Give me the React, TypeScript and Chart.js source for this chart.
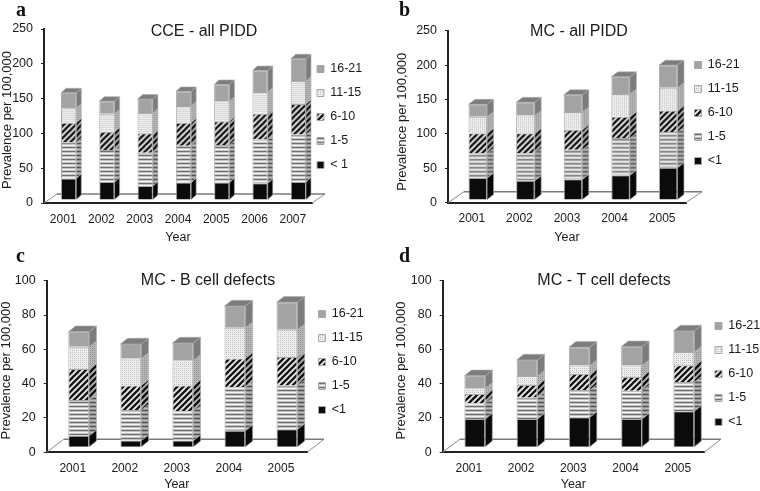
import React, { useEffect, useRef } from "react";
import { Chart, registerables } from "chart.js";

Chart.register(...registerables);

const aYears = ["2001", "2002", "2003", "2004", "2005", "2006", "2007"];
const aUnder1 = [31, 26, 20, 25, 25, 24, 26];
const a1to5 = [52, 46, 48, 53, 54, 63, 68];
const a6to10 = [28, 26, 28, 33, 34, 37, 44];
const a11to15 = [21, 26, 29, 24, 29, 31, 33];
const a16to21 = [22, 18, 20, 21, 24, 31, 32];

const bYears = ["2001", "2002", "2003", "2004", "2005"];
const bUnder1 = [32, 28, 30, 36, 47];
const b1to5 = [36, 40, 43, 54, 52];
const b6to10 = [29, 29, 29, 31, 31];
const b11to15 = [24, 26, 26, 33, 33];
const b16to21 = [18, 19, 25, 25, 33];

const cUnder1 = [6.8, 3.9, 3.9, 9.7, 10.5];
const c1to5 = [20.8, 17.8, 17.1, 25.3, 25.5];
const c6to10 = [18, 14.3, 15, 16.8, 16.6];
const c11to15 = [13, 15.8, 14.7, 17.9, 15.9];
const c16to21 = [8.8, 8.4, 10.1, 12.6, 16];

const dUnder1 = [16.5, 16.5, 17.5, 16.5, 21];
const d1to5 = [9.1, 12.5, 15.9, 16.5, 17];
const d6to10 = [5.4, 7.3, 9.3, 8, 9.8];
const d11to15 = [3.4, 5.3, 4.9, 6.6, 7.7];
const d16to21 = [7.3, 9.3, 10.7, 11, 12.3];

const yTicks250 = 250;
const yTicks100 = 100;
const stepA = 50;
const stepC = 20;

type Panel = {
  letter: string; title: string; titleX: number; titleY: number;
  under1Label: string; years: string[]; series: number[][]; max: number; step: number;
  ox: number; oy: number; w: number; h: number;
  left: number; right: number; top: number; bottom: number;
  floorDx: number; floorDy: number; barDx: number; barDy: number; depthX: number; depthY: number;
  barPct: number; legendX: number; legendY: number; yTitleDx: number; yTitleDy: number;
  letterX: number; letterY: number; yearPad: number;
};

const panels: Panel[] = [
  { letter: "a", title: "CCE - all PIDD", titleX: 204, titleY: 32, under1Label: "< 1", years: aYears,
    series: [aUnder1, a1to5, a6to10, a11to15, a16to21], max: yTicks250, step: stepA,
    ox: 0, oy: 0, w: 380, h: 245, left: 44, right: 312, top: 29, bottom: 203,
    floorDx: 13, floorDy: 9, barDx: 5.5, barDy: -3, depthX: 5, depthY: 4.5, barPct: 0.4,
    legendX: 317, legendY: 69, yTitleDx: 0.5, yTitleDy: 4, letterX: 16, letterY: -2, yearPad: 1 },
  { letter: "b", title: "MC - all PIDD", titleX: 199, titleY: 32, under1Label: "<1", years: bYears,
    series: [bUnder1, b1to5, b6to10, b11to15, b16to21], max: yTicks250, step: stepA,
    ox: 380, oy: 0, w: 380, h: 245, left: 68, right: 306, top: 30.7, bottom: 202.7,
    floorDx: 16, floorDy: 11, barDx: 6, barDy: -2.7, depthX: 6.5, depthY: 5, barPct: 0.39,
    legendX: 314.5, legendY: 65, yTitleDx: 16, yTitleDy: 5, letterX: 19, letterY: -2, yearPad: 1 },
  { letter: "c", title: "MC - B cell defects", titleX: 208, titleY: 36, under1Label: "<1", years: bYears,
    series: [cUnder1, c1to5, c6to10, c11to15, c16to21], max: yTicks100, step: stepC,
    ox: 0, oy: 245, w: 380, h: 246, left: 46.7, right: 307, top: 35.7, bottom: 207.3,
    floorDx: 17, floorDy: 13, barDx: 6, barDy: -5, depthX: 7.3, depthY: 5.7, barPct: 0.4,
    legendX: 318.5, legendY: 69, yTitleDx: 0, yTitleDy: 4, letterX: 16, letterY: -1, yearPad: 0 },
  { letter: "d", title: "MC - T cell defects", titleX: 224, titleY: 36, under1Label: "<1", years: bYears,
    series: [dUnder1, d1to5, d6to10, d11to15, d16to21], max: yTicks100, step: stepC,
    ox: 380, oy: 245, w: 380, h: 246, left: 62.7, right: 324, top: 35.7, bottom: 207.3,
    floorDx: 17, floorDy: 13, barDx: 6, barDy: -5, depthX: 7, depthY: 5.7, barPct: 0.4,
    legendX: 335, legendY: 81, yTitleDx: 14.5, yTitleDy: 4, letterX: 19, letterY: -1, yearPad: 0 },
];

const ageLabels = ["1-5", "6-10", "11-15", "16-21"];
const FONT = '"Liberation Sans", Arial, sans-serif';
const TEXT = "#1a1a1a";

function tile(size: number, paint: (c: CanvasRenderingContext2D) => void) {
  const cv = document.createElement("canvas");
  cv.width = size;
  cv.height = size;
  const c = cv.getContext("2d")!;
  paint(c);
  return c.createPattern(cv, "repeat")!;
}

function makeFills() {
  const stripes = tile(4, (c) => {
    const rows = ["#f4f4f4", "#c4c4c4", "#6e6e6e", "#c4c4c4"];
    rows.forEach((col, i) => { c.fillStyle = col; c.fillRect(0, i, 4, 1); });
  });
  const diagonal = tile(6, (c) => {
    c.fillStyle = "#ececec";
    c.fillRect(0, 0, 6, 6);
    c.strokeStyle = "#141414";
    c.lineWidth = 2.3;
    for (const k of [-6, 0, 6, 12]) {
      c.beginPath();
      c.moveTo(k - 1, 7);
      c.lineTo(k + 7, -1);
      c.stroke();
    }
  });
  const dots = tile(4, (c) => {
    c.fillStyle = "#eeeeee";
    c.fillRect(0, 0, 4, 4);
    c.fillStyle = "#b4b4b4";
    c.fillRect(0, 0, 1, 1);
    c.fillRect(2, 2, 1, 1);
    c.fillStyle = "#cfcfcf";
    c.fillRect(2, 0, 1, 1);
    c.fillRect(0, 2, 1, 1);
  });
  return ["#0b0b0b", stripes, diagonal, dots, "#a3a3a3"];
}

function PanelChart({ p }: { p: Panel }) {
  const ref = useRef<HTMLCanvasElement>(null);
  useEffect(() => {
    const canvas = ref.current!;
    const fills = makeFills();
    const labels = [p.under1Label, ...ageLabels];

    const depthPlugin = {
      id: "depth",
      afterLayout(chart: any) {
        const pad = chart.options.plugins.legend.labels.padding;
        const lg = chart.legend;
        lg.left = p.legendX - pad;
        lg.right = p.w;
        lg.width = p.w - lg.left;
        lg.top = p.legendY - pad - 6.25;
        lg.bottom = p.h;
        lg.height = p.h - lg.top;
        const tb = chart.titleBlock;
        tb.left = p.titleX - 120;
        tb.right = p.titleX + 120;
        tb.width = 240;
        tb.top = p.titleY - 8;
        tb.bottom = p.titleY + 8;
        const ys = chart.scales.y;
        if (!ys.__moved) {
          const base = ys.drawTitle;
          ys.drawTitle = function () {
            chart.ctx.save();
            chart.ctx.translate(p.yTitleDx, p.yTitleDy);
            base.call(ys);
            chart.ctx.restore();
          };
          ys.__moved = true;
        }
      },
      beforeDatasetsDraw(chart: any) {
        const { ctx, chartArea: a } = chart;
        ctx.save();
        ctx.strokeStyle = "#8a8a8a";
        ctx.lineWidth = 1;
        ctx.beginPath();
        ctx.moveTo(a.left, a.bottom);
        ctx.lineTo(a.left + p.floorDx, a.bottom - p.floorDy);
        ctx.moveTo(a.right, a.bottom);
        ctx.lineTo(a.right + p.floorDx, a.bottom - p.floorDy);
        ctx.stroke();
        ctx.lineWidth = 1.6;
        ctx.strokeStyle = "#7a7a7a";
        ctx.beginPath();
        ctx.moveTo(a.left + p.floorDx, a.bottom - p.floorDy);
        ctx.lineTo(a.right + p.floorDx, a.bottom - p.floorDy);
        ctx.stroke();
        ctx.restore();
        ctx.save();
        ctx.translate(p.barDx, p.barDy);
      },
      afterDatasetsDraw(chart: any) {
        const { ctx } = chart;
        const n = chart.data.datasets.length;
        for (let d = 0; d < n; d++) {
          const meta = chart.getDatasetMeta(d);
          meta.data.forEach((bar: any) => {
            const r = bar.x + bar.width / 2;
            const path = () => {
              ctx.beginPath();
              ctx.moveTo(r, bar.y);
              ctx.lineTo(r + p.depthX, bar.y - p.depthY);
              ctx.lineTo(r + p.depthX, bar.base - p.depthY);
              ctx.lineTo(r, bar.base);
              ctx.closePath();
            };
            path();
            ctx.fillStyle = chart.data.datasets[d].backgroundColor;
            ctx.fill();
            path();
            ctx.fillStyle = "rgba(0,0,0,0.24)";
            ctx.fill();
            path();
            ctx.strokeStyle = "#b0b0b0";
            ctx.lineWidth = 0.6;
            ctx.stroke();
            if (d === n - 1) {
              const l = bar.x - bar.width / 2;
              ctx.beginPath();
              ctx.moveTo(l, bar.y);
              ctx.lineTo(l + p.depthX, bar.y - p.depthY);
              ctx.lineTo(r + p.depthX, bar.y - p.depthY);
              ctx.lineTo(r, bar.y);
              ctx.closePath();
              ctx.fillStyle = "#7d7d7d";
              ctx.fill();
              ctx.strokeStyle = "#b0b0b0";
              ctx.stroke();
            }
          });
        }
        ctx.restore();
      },
    };

    const chart = new Chart(canvas, {
      type: "bar",
      data: {
        labels: p.years,
        datasets: p.series.map((values, i) => ({
          label: labels[i],
          data: values,
          backgroundColor: fills[i] as any,
          borderColor: "#a9a9a9",
          borderWidth: 1,
          barPercentage: p.barPct,
          categoryPercentage: 1,
          clip: false as any,
        })),
      },
      options: {
        responsive: false,
        animation: false,
        layout: { padding: { left: 0, top: p.top - 16, right: p.w - p.right, bottom: 0 } },
        plugins: {
          tooltip: { enabled: false },
          title: {
            display: true,
            text: p.title,
            color: TEXT,
            padding: 0,
            font: { family: FONT, size: 16, weight: "normal", lineHeight: 1 },
          },
          legend: {
            position: "chartArea",
            align: "start",
            reverse: true,
            labels: {
              boxWidth: 7,
              boxHeight: 7,
              padding: 11.5,
              color: TEXT,
              font: { family: FONT, size: 12.5 },
            },
          },
        },
        scales: {
          x: {
            stacked: true,
            afterFit: (s: any) => { s.height = p.h - p.bottom; },
            grid: { display: false, drawTicks: false },
            border: { color: "#222", width: 2 },
            ticks: { color: TEXT, padding: 9, maxRotation: 0, font: { family: FONT, size: 12 } },
            title: {
              display: true,
              text: "Year",
              color: TEXT,
              padding: { top: 0, bottom: p.yearPad },
              font: { family: FONT, size: 12.5, lineHeight: 1 },
            },
          },
          y: {
            stacked: true,
            min: 0,
            max: p.max,
            afterFit: (s: any) => { s.width = p.left; },
            grid: { drawOnChartArea: false, drawTicks: true, tickLength: 3, color: "#222", lineWidth: 1 },
            border: { color: "#222", width: 2 },
            ticks: { stepSize: p.step, color: TEXT, padding: 8, font: { family: FONT, size: 12.5 } },
            title: {
              display: true,
              text: "Prevalence per 100,000",
              color: TEXT,
              padding: 0,
              font: { family: FONT, size: 13, lineHeight: 1 },
            },
          },
        },
      },
      plugins: [depthPlugin],
    } as any);
    return () => chart.destroy();
  }, [p]);

  return (
    <>
      <canvas
        ref={ref}
        width={p.w}
        height={p.h}
        style={{ position: "absolute", left: p.ox, top: p.oy, width: p.w, height: p.h, filter: "blur(0.35px)" }}
      />
      <div
        style={{
          position: "absolute",
          left: p.ox + p.letterX,
          top: p.oy + p.letterY,
          font: 'bold 20px "Liberation Serif", serif',
          color: "#111",
        }}
      >
        {p.letter}
      </div>
    </>
  );
}

export default function App() {
  return (
    <div style={{ position: "fixed", left: 0, top: 0, width: 760, height: 491, overflow: "hidden", background: "#fff" }}>
      {panels.map((p) => (
        <PanelChart key={p.letter} p={p} />
      ))}
    </div>
  );
}
